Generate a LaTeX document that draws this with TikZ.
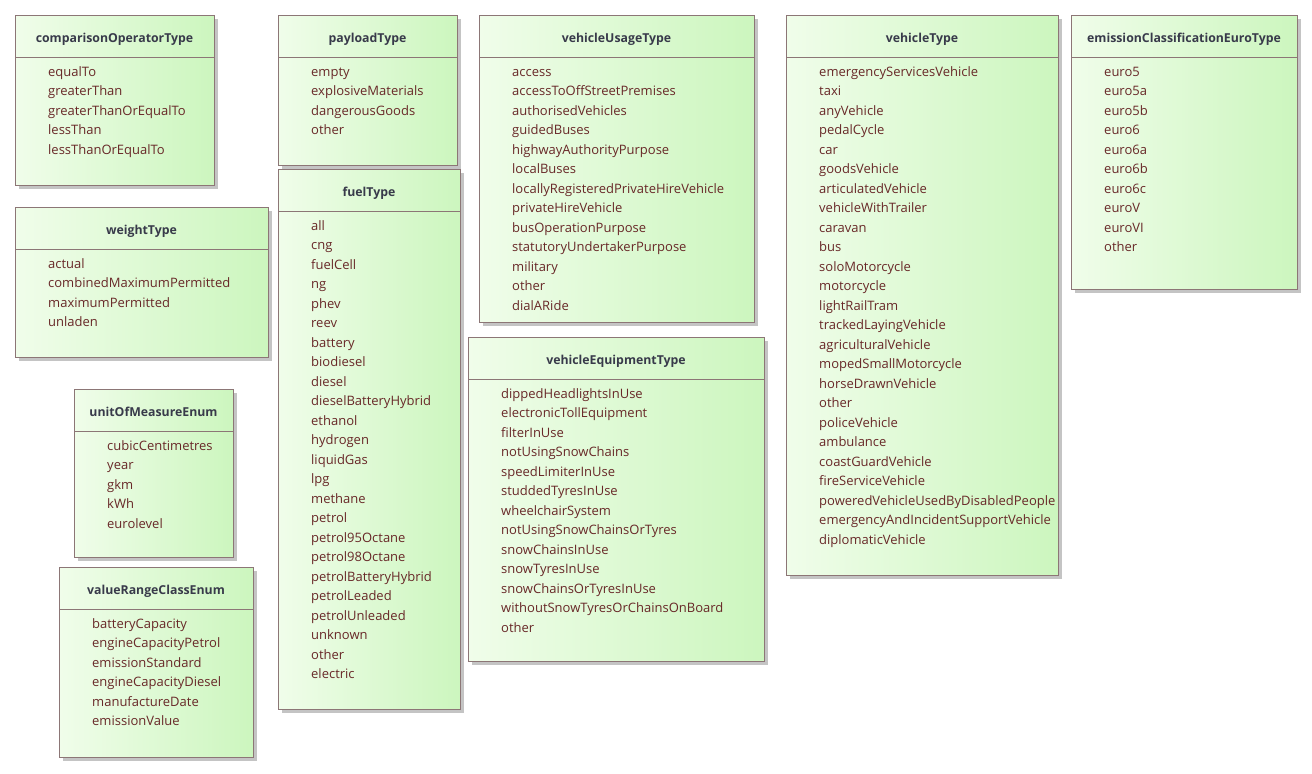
\documentclass[tikz,border=0pt]{standalone}
\usepackage{fontspec}
\setmainfont{Open Sans}
\usetikzlibrary{shadows}
\definecolor{gleft}{RGB}{240,253,234}
\definecolor{gright}{RGB}{204,246,190}
\definecolor{bordc}{RGB}{140,118,118}
\definecolor{itemc}{RGB}{104,40,40}
\definecolor{titlec}{RGB}{56,58,74}
\definecolor{shadc}{RGB}{196,196,196}
\tikzset{
  boxn/.style={draw=bordc, line width=0.9bp, left color=gleft, right color=gright, inner sep=0pt,
    drop shadow={shadow xshift=4bp, shadow yshift=-4bp, fill=shadc, opacity=1}},
  titlen/.style={font=\fontsize{12.3bp}{14bp}\selectfont\bfseries, text=titlec, anchor=base, inner sep=0pt},
  itemn/.style={font=\fontsize{13bp}{15bp}\selectfont, text=itemc, anchor=base west, inner sep=0pt},
  sepline/.style={draw=bordc, line width=0.9bp}
}
\newcommand{\enumbox}[7]{%
  \node[boxn, anchor=north west, minimum width={(#4-#2)*1bp}, minimum height={(#5-#3)*1bp}] (#1) at (#2,#3) {};
  \draw[sepline] ([yshift=-42bp]#1.north west) -- ([yshift=-42bp]#1.north east);
  \node[titlen] (#1-t) at ({(#2+#4)/2},#3+27.5) {#6};
  \foreach \itm [count=\i] in {#7} {\node[itemn] (#1-\i) at (#2+33,#3+41.5+19.5*\i) {\itm};}
}
\begin{document}
\begin{tikzpicture}[x=1bp,y=-1bp]
\useasboundingbox[fill=white] (0,0) rectangle (1312,773);
\enumbox{cmp}{15}{15}{214}{185}{comparisonOperatorType}{equalTo,greaterThan,greaterThanOrEqualTo,lessThan,lessThanOrEqualTo}
\enumbox{wgt}{15}{207}{268}{357}{weightType}{actual,combinedMaximumPermitted,maximumPermitted,unladen}
\enumbox{uom}{74}{389}{233}{557}{unitOfMeasureEnum}{cubicCentimetres,year,gkm,kWh,eurolevel}
\enumbox{vrc}{59}{567}{253}{757}{valueRangeClassEnum}{batteryCapacity,engineCapacityPetrol,emissionStandard,engineCapacityDiesel,manufactureDate,emissionValue}
\enumbox{pay}{278}{15}{457}{165}{payloadType}{empty,explosiveMaterials,dangerousGoods,other}
\enumbox{fuel}{278}{169}{460}{709}{fuelType}{all,cng,fuelCell,ng,phev,reev,battery,biodiesel,diesel,dieselBatteryHybrid,ethanol,hydrogen,liquidGas,lpg,methane,petrol,petrol95Octane,petrol98Octane,petrolBatteryHybrid,petrolLeaded,petrolUnleaded,unknown,other,electric}
\enumbox{use}{479}{15}{754}{322}{vehicleUsageType}{access,accessToOffStreetPremises,authorisedVehicles,guidedBuses,highwayAuthorityPurpose,localBuses,locallyRegisteredPrivateHireVehicle,privateHireVehicle,busOperationPurpose,statutoryUndertakerPurpose,military,other,dialARide}
\enumbox{equip}{468}{337}{764}{661}{vehicleEquipmentType}{dippedHeadlightsInUse,electronicTollEquipment,filterInUse,notUsingSnowChains,speedLimiterInUse,studdedTyresInUse,wheelchairSystem,notUsingSnowChainsOrTyres,snowChainsInUse,snowTyresInUse,snowChainsOrTyresInUse,withoutSnowTyresOrChainsOnBoard,other}
\enumbox{veh}{786}{15}{1058}{575}{vehicleType}{emergencyServicesVehicle,taxi,anyVehicle,pedalCycle,car,goodsVehicle,articulatedVehicle,vehicleWithTrailer,caravan,bus,soloMotorcycle,motorcycle,lightRailTram,trackedLayingVehicle,agriculturalVehicle,mopedSmallMotorcycle,horseDrawnVehicle,other,policeVehicle,ambulance,coastGuardVehicle,fireServiceVehicle,poweredVehicleUsedByDisabledPeople,emergencyAndIncidentSupportVehicle,diplomaticVehicle}
\enumbox{euro}{1071}{15}{1297}{289}{emissionClassificationEuroType}{euro5,euro5a,euro5b,euro6,euro6a,euro6b,euro6c,euroV,euroVI,other}
\end{tikzpicture}
\end{document}
